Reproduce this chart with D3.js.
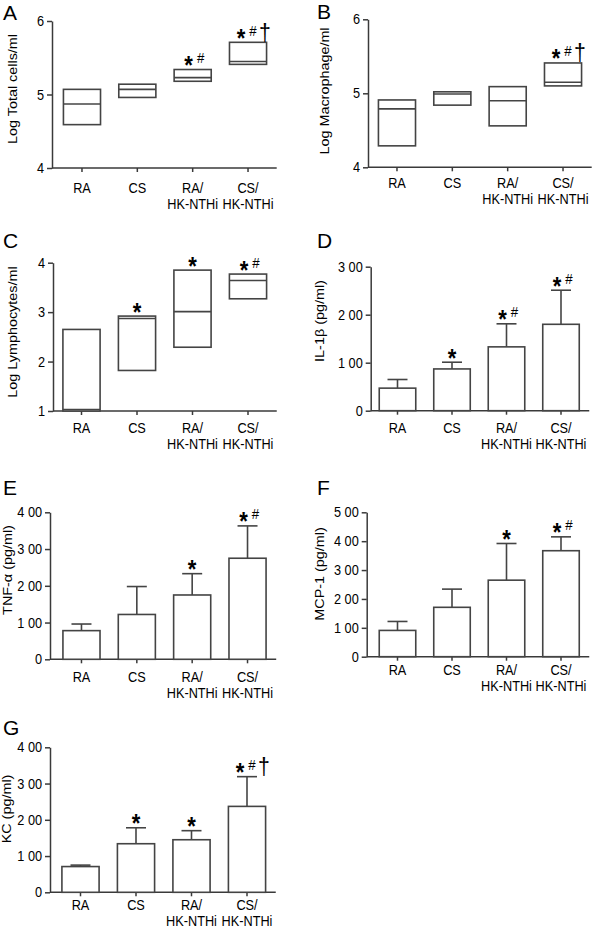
<!DOCTYPE html>
<html><head><meta charset="utf-8">
<script src="https://cdn.jsdelivr.net/npm/d3@7"></script>
<style>
body{margin:0;background:#fff}
svg{display:block}
text{font-family:"Liberation Sans",Arial,sans-serif;fill:#000}
</style>
</head><body>
<svg id="chart" width="600" height="928"></svg>
<script>
// ---- data ----
const groupLine1 = ["RA", "CS", "RA/", "CS/"];
const groupLine2 = ["", "", "HK-NTHi", "HK-NTHi"];

const totalLow    = [4.59, 4.96, 5.18, 5.41];
const totalMedian = [4.87, 5.07, 5.23, 5.45];
const totalHigh   = [5.07, 5.14, 5.34, 5.71];

const macroLow    = [4.29, 4.84, 4.56, 5.10];
const macroMedian = [4.79, 4.99, 4.90, 5.15];
const macroHigh   = [4.91, 5.02, 5.09, 5.41];

const lymphLow    = [1.00, 1.82, 2.29, 3.27];
const lymphMedian = [1.03, 2.87, 3.01, 3.64];
const lymphHigh   = [2.65, 2.92, 3.85, 3.77];

const il1bMean = [47, 87, 133, 180];
const il1bSem  = [18, 14, 48, 71];
const tnfMean  = [78, 122, 175, 275];
const tnfSem   = [18, 76, 58, 88];
const mcpMean  = [91, 171, 265, 367];
const mcpSem   = [31, 63, 127, 48];
const kcMean   = [71, 134, 145, 237];
const kcSem    = [4, 44, 25, 82];

const sigA = ["", "", "*#", "*#†"];
const sigB = ["", "", "", "*#†"];
const sigC = ["", "*", "*", "*#"];
const sigD = ["", "*", "*#", "*#"];
const sigE = ["", "", "*", "*#"];
const sigF = ["", "", "*", "*#"];
const sigG = ["", "*", "*", "*#†"];

const ticksLog   = [4, 5, 6];
const ticksLymph = [1, 2, 3, 4];
const ticksIL    = [0, 100, 200, 300];
const ticksTNF   = [0, 100, 200, 300, 400];
const ticksMCP   = [0, 100, 200, 300, 400, 500];
const ticksKC    = [0, 100, 200, 300, 400];

// ---- layout ----
const panels = [
  {letter:"A", title:"Log Total cells/ml", type:"box", low:totalLow, mid:totalMedian, high:totalHigh, ticks:ticksLog, sig:sigA,
   axisX:52, yPx:[168, 21], xPx:[54.3, 275.7], labelDy:25, letterPos:[3, 20], titlePos:[13, 89]},
  {letter:"B", title:"Log Macrophage/ml", type:"box", low:macroLow, mid:macroMedian, high:macroHigh, ticks:ticksLog, sig:sigB,
   axisX:368, yPx:[167.3, 19.3], xPx:[369.3, 590.7], labelDy:21, letterPos:[317, 18.5], titlePos:[325, 91]},
  {letter:"C", title:"Log Lymphocytes/ml", type:"box", low:lymphLow, mid:lymphMedian, high:lymphHigh, ticks:ticksLymph, sig:sigC,
   axisX:53, yPx:[411, 262.7], xPx:[53.75, 275.75], labelDy:22.3, letterPos:[3, 248], titlePos:[13, 332]},
  {letter:"D", title:"IL-1β (pg/ml)", type:"bar", mean:il1bMean, sem:il1bSem, ticks:ticksIL, sig:sigD,
   axisX:370.7, yPx:[410.7, 266.7], xPx:[370.25, 588.25], labelDy:22.6, letterPos:[317, 248], titlePos:[320, 321]},
  {letter:"E", title:"TNF-α (pg/ml)", type:"bar", mean:tnfMean, sem:tnfSem, ticks:ticksTNF, sig:sigE,
   axisX:50, yPx:[659.3, 512.3], xPx:[53.8, 275.2], labelDy:23, letterPos:[3, 495], titlePos:[8, 570]},
  {letter:"F", title:"MCP-1 (pg/ml)", type:"bar", mean:mcpMean, sem:mcpSem, ticks:ticksMCP, sig:sigF,
   axisX:366.7, yPx:[656.7, 512.3], xPx:[370.25, 588.25], labelDy:18.3, letterPos:[317, 495], titlePos:[320, 574]},
  {letter:"G", title:"KC (pg/ml)", type:"bar", mean:kcMean, sem:kcSem, ticks:ticksKC, sig:sigG,
   axisX:50, yPx:[892.3, 747.3], xPx:[52.75, 274.75], labelDy:17.5, letterPos:[3, 735], titlePos:[7, 809]}
];

const SX = 0.885;      // horizontal compression of glyphs
const FS = 14.4;
const AXIS = "#3a3a3a", MARK = "#444";
const svg = d3.select("#chart");

function fmtTick(d) {
  const s = String(d);
  return s.length > 1 ? s[0] + " " + s.slice(1) : s;
}

function label(g, x, y, str, size, anchor, extra) {
  return g.append("text")
    .attr("transform", `translate(${x},${y}) scale(${SX},1)` + (extra || ""))
    .attr("text-anchor", anchor || "middle")
    .style("font-size", size + "px")
    .text(str);
}

panels.forEach(p => {
  const g = svg.append("g");
  const y = d3.scaleLinear().domain([p.ticks[0], p.ticks[p.ticks.length - 1]]).range(p.yPx);
  const x = d3.scaleBand().domain(d3.range(4)).range(p.xPx).paddingInner(0.33).paddingOuter(0.165);
  const bw = x.bandwidth();
  const cx = i => x(i) + bw / 2;
  const y0 = p.yPx[0];

  // y axis
  const ya = g.append("g").attr("transform", `translate(${p.axisX},0)`)
    .call(d3.axisLeft(y).tickValues(p.ticks).tickSize(5).tickSizeOuter(0).tickPadding(4)
      .tickFormat(p.type === "bar" ? fmtTick : d3.format("d")));
  ya.select(".domain").attr("stroke", AXIS).attr("stroke-width", 1.5);
  ya.selectAll(".tick line").attr("stroke", AXIS).attr("stroke-width", 1.5);
  ya.selectAll(".tick text").attr("transform", `scale(${SX},1)`)
    .style("font-size", FS + "px").style("font-family", '"Liberation Sans",Arial,sans-serif').attr("fill", "#000");

  // x axis
  const xEnd = p.xPx[1] + 1;
  g.append("line").attr("x1", p.axisX).attr("x2", xEnd).attr("y1", y0).attr("y2", y0)
    .attr("stroke", AXIS).attr("stroke-width", 1.5);
  d3.range(4).forEach(i => {
    g.append("line").attr("x1", cx(i)).attr("x2", cx(i)).attr("y1", y0).attr("y2", y0 + 4)
      .attr("stroke", AXIS).attr("stroke-width", 1.5);
    label(g, cx(i), y0 + p.labelDy, groupLine1[i], FS);
    if (groupLine2[i]) label(g, cx(i), y0 + p.labelDy + 16, groupLine2[i], FS);
  });

  // marks
  const tops = [];
  d3.range(4).forEach(i => {
    if (p.type === "box") {
      const yt = y(p.high[i]), yb = y(p.low[i]);
      g.append("rect").attr("x", x(i)).attr("y", yt).attr("width", bw).attr("height", Math.max(0, yb - yt))
        .attr("fill", "#fff").attr("stroke", MARK).attr("stroke-width", 1.6);
      g.append("line").attr("x1", x(i)).attr("x2", x(i) + bw).attr("y1", y(p.mid[i])).attr("y2", y(p.mid[i]))
        .attr("stroke", MARK).attr("stroke-width", 1.6);
      tops.push(yt);
    } else {
      const ym = y(p.mean[i]), ye = y(p.mean[i] + p.sem[i]);
      g.append("line").attr("x1", cx(i)).attr("x2", cx(i)).attr("y1", ym).attr("y2", ye)
        .attr("stroke", MARK).attr("stroke-width", 1.6);
      g.append("line").attr("x1", cx(i) - 10).attr("x2", cx(i) + 10).attr("y1", ye).attr("y2", ye)
        .attr("stroke", MARK).attr("stroke-width", 1.6);
      g.append("rect").attr("x", x(i)).attr("y", ym).attr("width", bw).attr("height", y0 - ym)
        .attr("fill", "#fff").attr("stroke", MARK).attr("stroke-width", 1.6);
      tops.push(ye);
    }
  });

  // significance markers
  p.sig.forEach((s, i) => {
    if (!s) return;
    const sc = tops[i] - 10; // star centre
    const sx = cx(i) - (s.length === 1 ? 0 : (s.length === 2 ? 4 : 7));
    [...s].forEach(ch => {
      if (ch === "*") {
        label(g, sx, sc + 14.5, "*", 25, "middle").style("font-weight", "bold");
      } else if (ch === "#") {
        label(g, sx + 12, sc + 3.5, "#", 15, "middle");
      } else {
        label(g, sx + 24, sc + 8.5, "†", 24, "middle");
      }
    });
  });

  // y title
  label(g, p.titlePos[0], p.titlePos[1], p.title, FS, "middle", " rotate(-90)")
    .attr("dominant-baseline", "central");

  // panel letter
  g.append("text").attr("x", p.letterPos[0]).attr("y", p.letterPos[1])
    .style("font-size", "21px").text(p.letter);
});
</script>
</body></html>
